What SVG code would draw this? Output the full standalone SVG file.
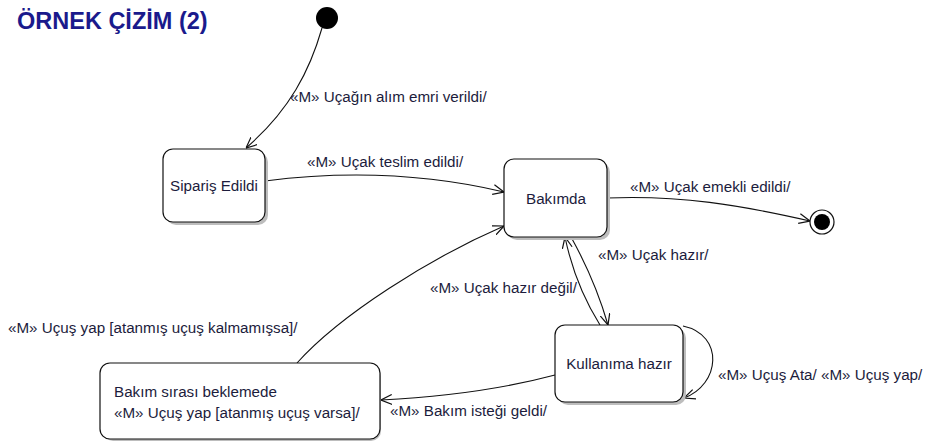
<svg xmlns="http://www.w3.org/2000/svg" width="927" height="442" viewBox="0 0 927 442">
<defs>
<marker id="arr" viewBox="0 0 10 10" refX="10" refY="5" markerWidth="11" markerHeight="11" markerUnits="userSpaceOnUse" orient="auto">
<path d="M0,0.5 L10,5 L0,9.5" fill="none" stroke="#111" stroke-width="1.1"/>
</marker>
</defs>
<style>
.title{font-family:"Liberation Sans",Arial,sans-serif;font-size:23.5px;font-weight:bold;fill:#1a1a8c}
.lbl{font-family:"Liberation Sans",Arial,sans-serif;font-size:15.2px;fill:#1c1c3c}
.nt{font-family:"Liberation Sans",Arial,sans-serif;font-size:15.2px;fill:#1c1c3c;text-anchor:middle}
.box{fill:#fff;stroke:#111;stroke-width:1.2}
.sh{fill:#bdbdbd}
.con{fill:none;stroke:#111;stroke-width:1.1;marker-end:url(#arr)}
</style>
<rect width="927" height="442" fill="#fff"/>
<text class="title" x="17" y="29">ÖRNEK ÇİZİM (2)</text>

<g id="connectors">
<path class="con" d="M322 28 C310 70 290 110 246 148"/>
<path class="con" d="M265 181 Q390 165 504 192"/>
<path class="con" d="M607 198 C680 195 740 205 810 221"/>
<path class="con" d="M571 237 Q595 280 608 325"/>
<path class="con" d="M600 325 Q575 285 565 237"/>
<path class="con" d="M297 363 C340 315 430 258 504 226"/>
<path class="con" d="M555 375 Q480 395 381 400"/>
<path class="con" d="M683 326 C725 335 720 385 684 398"/>
</g>

<g id="labels">
<text class="lbl" x="290" y="102">«M» Uçağın alım emri verildi/</text>
<text class="lbl" x="307" y="167">«M» Uçak teslim edildi/</text>
<text class="lbl" x="630" y="192">«M» Uçak emekli edildi/</text>
<text class="lbl" x="598" y="260">«M» Uçak hazır/</text>
<text class="lbl" x="430" y="293">«M» Uçak hazır değil/</text>
<text class="lbl" x="8" y="333">«M» Uçuş yap [atanmış uçuş kalmamışsa]/</text>
<text class="lbl" x="718" y="380">«M» Uçuş Ata/ «M» Uçuş yap/</text>
<text class="lbl" x="390" y="416">«M» Bakım isteği geldi/</text>
</g>

<g id="initial">
<circle cx="327" cy="18" r="11" fill="#000"/>
</g>

<g id="final">
<circle cx="822" cy="222" r="12" fill="#fff" stroke="#111" stroke-width="1.2"/>
<circle cx="822" cy="222" r="8" fill="#000"/>
</g>

<g id="siparis">
<rect class="sh" x="166" y="152" width="102" height="73" rx="10"/>
<rect class="box" x="163" y="149" width="102" height="73" rx="10"/>
<text class="nt" x="214" y="191">Sipariş Edildi</text>
</g>

<g id="bakimda">
<rect class="sh" x="507" y="162" width="103" height="78" rx="10"/>
<rect class="box" x="504" y="159" width="103" height="78" rx="10"/>
<text class="nt" x="556" y="204">Bakımda</text>
</g>

<g id="kullanima">
<rect class="sh" x="558" y="328" width="128" height="77" rx="10"/>
<rect class="box" x="555" y="325" width="128" height="77" rx="10"/>
<text class="nt" x="619" y="369">Kullanıma hazır</text>
</g>

<g id="bakimsirasi">
<rect class="sh" x="103" y="366" width="278" height="75" rx="10"/>
<rect class="box" x="100" y="363" width="280" height="76" rx="10"/>
<text class="lbl" x="114" y="397">Bakım sırası beklemede</text>
<text class="lbl" x="114" y="418">«M» Uçuş yap [atanmış uçuş varsa]/</text>
</g>
</svg>
